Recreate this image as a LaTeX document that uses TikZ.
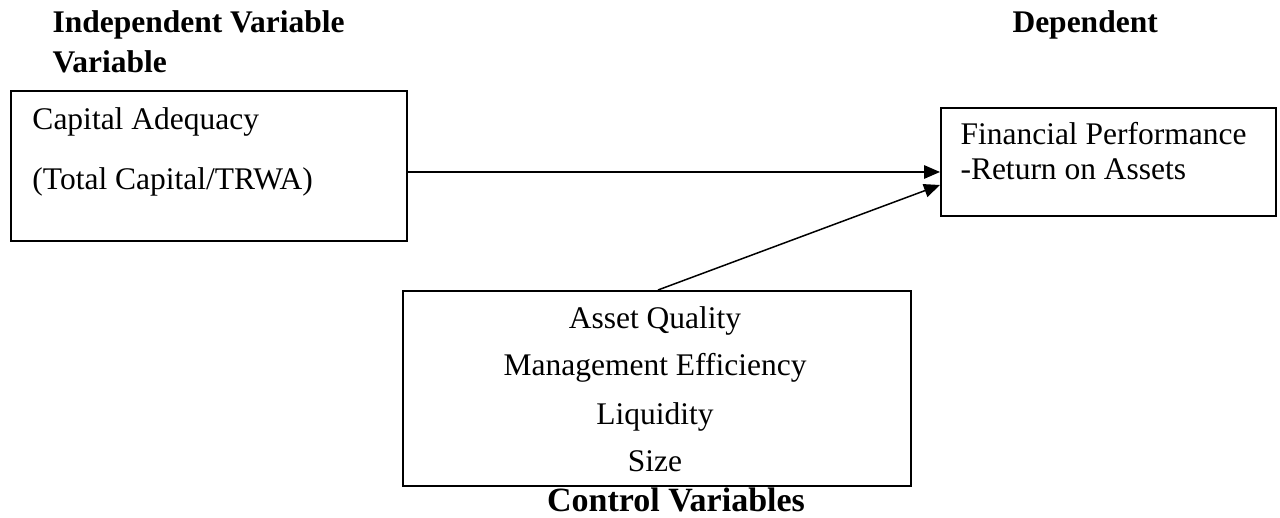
\documentclass[tikz,border=0pt]{standalone}
\usepackage{fontspec}
\setmainfont{Liberation Serif}
\usepackage{tikz}
\usetikzlibrary{arrows.meta}
\tikzstyle{varbox} = [draw=black, line width=0.8pt, rectangle, inner sep=0pt, anchor=north west]
\tikzstyle{heading} = [font=\fontsize{12.6}{16}\selectfont\bfseries, inner sep=0pt, anchor=base west]
\tikzstyle{vartext} = [font=\fontsize{12.6}{16}\selectfont, inner sep=0pt, anchor=base west]
\tikzstyle{ctrltext} = [vartext, anchor=base]
\tikzstyle{link} = [line width=0.6pt, -{Triangle[length=6.4pt,width=5.4pt]}]

\begin{document}
\begin{tikzpicture}[x=0.4pt, y=-0.4pt]
	\useasboundingbox (0,0) rectangle (1280,518);
	% headings
	\node[heading](indep) at (52,33) {Independent Variable};
	\node[heading](indep2) at (52,73) {Variable};
	\node[heading](dep) at (1012,33) {Dependent};
	% boxes
	\node[varbox, minimum width=158.4pt, minimum height=60pt](capital) at (10,90) {};
	\node[varbox, minimum width=134pt, minimum height=43.2pt](perf) at (940,107) {};
	\node[varbox, minimum width=203.2pt, minimum height=78pt](control) at (402,290) {};
	% box texts
	\node[vartext](capA) at (32,130) {Capital Adequacy};
	\node[vartext](capB) at (32,190) {(Total Capital/TRWA)};
	\node[vartext](perfA) at (960,145) {Financial Performance};
	\node[vartext](perfB) at (960,180) {-Return on Assets};
	\node[ctrltext](ctrlA) at (655,329) {Asset Quality};
	\node[ctrltext](ctrlB) at (655,376) {Management Efficiency};
	\node[ctrltext](ctrlC) at (655,425) {Liquidity};
	\node[ctrltext](ctrlD) at (655,472) {Size};
	\node[heading, anchor=base, font=\fontsize{13.6}{16}\selectfont\bfseries](ctrlname) at (676,512) {Control Variables};
	% arrows
	\draw[link] (capital.east |- 0,172) -- (perf.west |- 0,172);
	\draw[link] (control.north -| 658,0) -- (perf.west |- 0,185);
\end{tikzpicture}
\end{document}
